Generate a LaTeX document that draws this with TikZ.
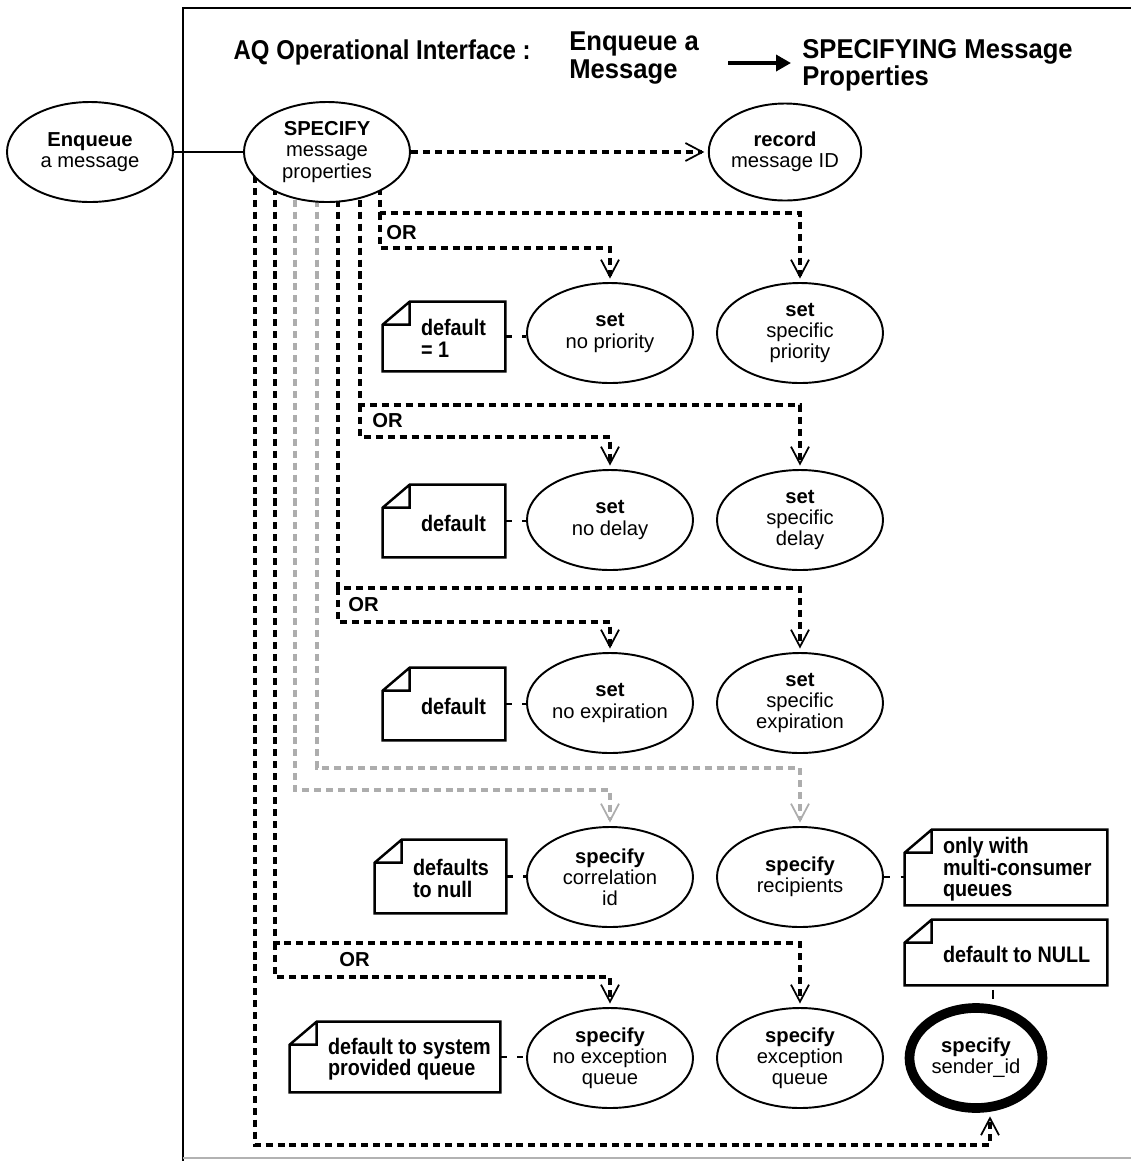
\documentclass[tikz,border=0pt]{standalone}
\usepackage{fontspec}
\setmainfont{Liberation Sans}
\newfontfamily\narrowsans[FakeStretch=0.88]{Liberation Sans}
\newfontfamily\headsans[FakeStretch=0.94]{Liberation Sans}
\usetikzlibrary{shapes.geometric,arrows.meta,calc,backgrounds}

\newcommand{\upx}{0.02cm}

\tikzset{
  proc/.style={ellipse, draw, line width=1.1pt, fill=white, inner sep=0pt,
    minimum width=166*\upx, minimum height=100*\upx, align=center,
    font=\fontsize{11.5}{12}\selectfont},
  headline/.style={inner sep=0pt, align=left, font=\headsans\bfseries\fontsize{15.5}{15.5}\selectfont},
  memobox/.style={inner sep=0pt},
  memo/.style={inner sep=0pt, anchor=west, align=left, font=\narrowsans\bfseries\fontsize{12.8}{12.3}\selectfont},
  memoline/.style={line width=1.4pt, line join=miter},
  orlabel/.style={inner sep=0pt, anchor=west, font=\bfseries\fontsize{11.5}{12}\selectfont},
  flow/.style={line width=1.9pt, dash pattern=on 4pt off 2.8pt, shorten >=2pt,
    -{Straight Barb[length=3.4mm, width=3.6mm, line width=1pt]}},
  faint/.style={flow, black!32},
  tie/.style={line width=1.4pt, dash pattern=on 3.5pt off 6pt}
}

% folded note: name, x, y, width, height, text
\newcommand{\memo}[6]{%
  \node[memobox, minimum width=#4*\upx, minimum height=#5*\upx] (#1) at (#2,#3) {};
  \node[memo] (#1t) at ([shift={(38,2)}]#1.west) {#6};
  \draw[memoline] ([shift={(0,23)}]#1.north west) -- ([shift={(27,0)}]#1.north west)
    -- (#1.north east) -- (#1.south east) -- (#1.south west) -- cycle
    ([shift={(27,0)}]#1.north west) -- ++(0,23) -- ([shift={(0,23)}]#1.north west);
}

\begin{document}
\begin{tikzpicture}[x=\upx, y=-\upx]
    \useasboundingbox (0,0) rectangle (1131,1161);

    % frame
    \draw[line width=1.3pt] (1131,8) -| (183,1161);
    \draw[black!30, line width=1pt] (183,1158) -- (1131,1158);

    % heading
    \node[headline, font=\narrowsans\bfseries\fontsize{15.5}{15.5}\selectfont, anchor=east] (ttl) at (531,52) {AQ Operational Interface :};
    \node[headline, anchor=west] (ttlA) at (569,58) {Enqueue a\\Message};
    \node[headline, anchor=west] (ttlB) at (802,65) {SPECIFYING Message\\Properties};
    \coordinate (hA) at (728,63);
    \coordinate (hB) at (791,63);
    \draw[line width=2pt, -{Triangle[length=3mm, width=3.2mm]}] (hA) -- (hB);

    % operations
    \node[proc] (enq) at (90,152) {\textbf{Enqueue}\\a message};
    \node[proc] (spec) at (327,152) {\textbf{SPECIFY}\\message\\properties};
    \node[proc, minimum width=141*\upx, minimum height=97*\upx] (rec) at (785,152) {\textbf{record}\\message ID};

    \node[proc] (pri1) at (610,333) {\textbf{set}\\no priority};
    \node[proc] (pri2) at (800,333) {\textbf{set}\\specific\\priority};
    \node[proc] (dly1) at (610,520) {\textbf{set}\\no delay};
    \node[proc] (dly2) at (800,520) {\textbf{set}\\specific\\delay};
    \node[proc] (exp1) at (610,703) {\textbf{set}\\no expiration};
    \node[proc] (exp2) at (800,703) {\textbf{set}\\specific\\expiration};
    \node[proc] (cor) at (610,877) {\textbf{specify}\\correlation\\id};
    \node[proc] (rcp) at (800,877) {\textbf{specify}\\recipients};
    \node[proc] (exq1) at (610,1058) {\textbf{specify}\\no exception\\queue};
    \node[proc] (exq2) at (800,1058) {\textbf{specify}\\exception\\queue};
    \node[proc, line width=5.5pt, minimum width=133*\upx, minimum height=100*\upx] (snd) at (976,1058) {\textbf{specify}\\sender\_id};
    \coordinate (sndIn) at ($(snd.south)+(14,0)$);
    \coordinate (sndTop) at ($(snd.north)+(17,0)$);

    % notes
    \memo{n1}{444}{336.5}{122}{69}{default\\= 1}
    \memo{n2}{444}{521}{122}{72}{default}
    \memo{n3}{444}{704}{122}{72}{default}
    \memo{n4}{440.5}{876.5}{131}{73}{defaults\\to null}
    \memo{n5}{395}{1057}{210}{70}{default to system\\provided queue}
    \memo{n6}{1006}{867.5}{202}{75}{only with\\multi-consumer\\queues}
    \memo{n7}{1006}{952.5}{202}{65}{default to NULL}

    \draw[tie] (n1.east) -- (n1.east -| pri1.west);
    \draw[tie] (n2.east) -- (n2.east -| dly1.west);
    \draw[tie] (n3.east) -- (n3.east -| exp1.west);
    \draw[tie] (n4.east) -- (n4.east -| cor.west);
    \draw[tie] (n5.east) -- (n5.east -| exq1.west);
    \draw[tie] (rcp.east) -- (rcp.east -| n6.west);
    \draw[tie, dash pattern=on 0pt off 2.5pt on 5.5pt off 20pt] (n7.south -| sndTop) -- (sndTop);

    \node[orlabel] (or1) at (386,233) {OR};
    \node[orlabel] (or2) at (372,421) {OR};
    \node[orlabel] (or3) at (348,605) {OR};
    \node[orlabel] (or4) at (339,960) {OR};

    \draw[line width=1pt] (enq) -- (spec);
    \draw[flow] (spec) -- (rec);

    \coordinate (orP) at (380,213);
    \coordinate (orP2) at (380,248);
    \coordinate (orD) at (360,405);
    \coordinate (orD2) at (360,437);
    \coordinate (orE) at (338,588);
    \coordinate (orE2) at (338,622);
    \coordinate (gR) at (317,768);
    \coordinate (gC) at (295,790);
    \coordinate (orX) at (275,943);
    \coordinate (orX2) at (275,977);
    \coordinate (sB) at (255,1145);

    \begin{scope}[on background layer]
        \draw[flow] (spec.center -| orP) -- (orP) -| (pri2.north);
        \draw[flow] (orP) -- (orP2) -| (pri1.north);
        \draw[flow] (spec.center -| orD) -- (orD) -| (dly2.north);
        \draw[flow] (orD) -- (orD2) -| (dly1.north);
        \draw[flow] (spec.center -| orE) -- (orE) -| (exp2.north);
        \draw[flow] (orE) -- (orE2) -| (exp1.north);
        \draw[faint] (spec.center -| gR) -- (gR) -| (rcp.north);
        \draw[faint] (spec.center -| gC) -- (gC) -| (cor.north);
        \draw[flow] (spec.center -| orX) -- (orX) -| (exq2.north);
        \draw[flow] (orX) -- (orX2) -| (exq1.north);
        \draw[flow] (spec.center -| sB) -- (sB) -| (sndIn);
    \end{scope}
\end{tikzpicture}
\end{document}
